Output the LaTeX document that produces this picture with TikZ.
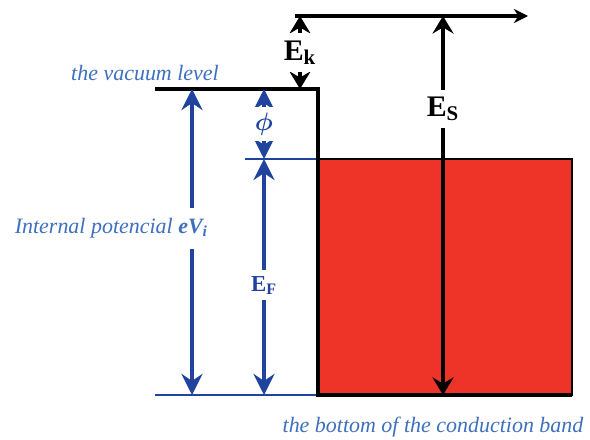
\documentclass[tikz,border=0pt]{standalone}
\usepackage{fontspec}
\setmainfont{Liberation Serif}
\usepackage{amsmath,amssymb}
\usetikzlibrary{arrows.meta, positioning}

\definecolor{bandred}{RGB}{238,52,41}
\definecolor{levelblue}{RGB}{32,68,158}
\definecolor{labelblue}{RGB}{62,112,190}

\begin{document}
\begin{tikzpicture}[
    x=0.02cm, y=-0.02cm,
    blackline/.style={line width=2.3pt, black, line join=miter},
    blackarrow/.style={line width=2.3pt, {Stealth[length=10pt, width=12pt, inset=3.5pt]}-{Stealth[length=10pt, width=12pt, inset=3.5pt]}},
    bluearrow/.style={line width=2pt, levelblue, {Stealth[length=12pt, width=12pt, inset=4pt]}-{Stealth[length=12pt, width=12pt, inset=4pt]}},
    levelline/.style={line width=1pt, levelblue},
    biglabel/.style={fill=white, inner xsep=1.5pt, inner ysep=4pt, font=\fontsize{17}{20}\selectfont\bfseries},
    bluelabel/.style={fill=white, inner xsep=1.5pt, inner ysep=3.5pt, text=levelblue, font=\fontsize{13}{15}\selectfont\bfseries},
    caption/.style={inner sep=0pt, text=labelblue, font=\fontsize{12.5}{15}\selectfont\itshape}
]
    \useasboundingbox (0,0) rectangle (590,439);

    % Key points
    \coordinate (vacL) at (155,89);
    \coordinate (vacR) at (318,89);
    \coordinate (bandTL) at (318,159);
    \coordinate (bandBL) at (318,395);
    \coordinate (bandBR) at (572,395);
    \coordinate (fermiL) at (245,159);
    \coordinate (botL) at (155,395);
    \coordinate (freeL) at (295,16);
    \coordinate (freeR) at (528,16);
    \coordinate (ekTop) at (300,16);
    \coordinate (ekBot) at (300,89);
    \coordinate (esTop) at (443,16);
    \coordinate (esBot) at (443,395);
    \coordinate (viTop) at (192,89);
    \coordinate (viBot) at (192,395);
    \coordinate (phiTop) at (264,89);
    \coordinate (phiBot) at (264,159);
    \coordinate (efBot) at (264,395);

    % Conduction band
    \filldraw[fill=bandred, draw=black, line width=0.8pt] (bandTL) rectangle (bandBR);

    % Levels
    \draw[levelline] (fermiL) -- (bandTL);
    \draw[levelline] (botL) -- (bandBL);
    \draw[blackline] (vacL) -- (vacR) -- (bandBL) -- (bandBR);
    \draw[blackline, -{Stealth[length=8pt, width=8pt, inset=2.5pt]}] (freeL) -- (freeR);

    % Energies
    \draw[blackarrow] (ekTop) -- node[biglabel, pos=0.5] {E\textsubscript{k}} (ekBot);
    \draw[blackarrow] (esTop) -- node[biglabel, pos=0.245] {E\textsubscript{S}} (esBot);
    \draw[bluearrow] (viTop) -- node[caption, fill=white, inner xsep=3pt, inner ysep=6pt, pos=0.455, anchor=east, xshift=13pt]
        {Internal potencial \textbf{\textit{eV}\textsubscript{\textit{i}}}} (viBot);
    \draw[bluearrow] (phiTop) -- node[bluelabel, pos=0.5, font=\fontsize{15}{17}\selectfont] {$\boldsymbol{\phi}$} (phiBot);
    \draw[bluearrow] (phiBot) -- node[bluelabel, pos=0.535] {E\textsubscript{F}} (efBot);

    % Annotations
    \node[caption] (vaclabel) at (145,73) {the vacuum level};
    \node[caption] (bandlabel) at (433,427) {the bottom of the conduction band};

\end{tikzpicture}
\end{document}
